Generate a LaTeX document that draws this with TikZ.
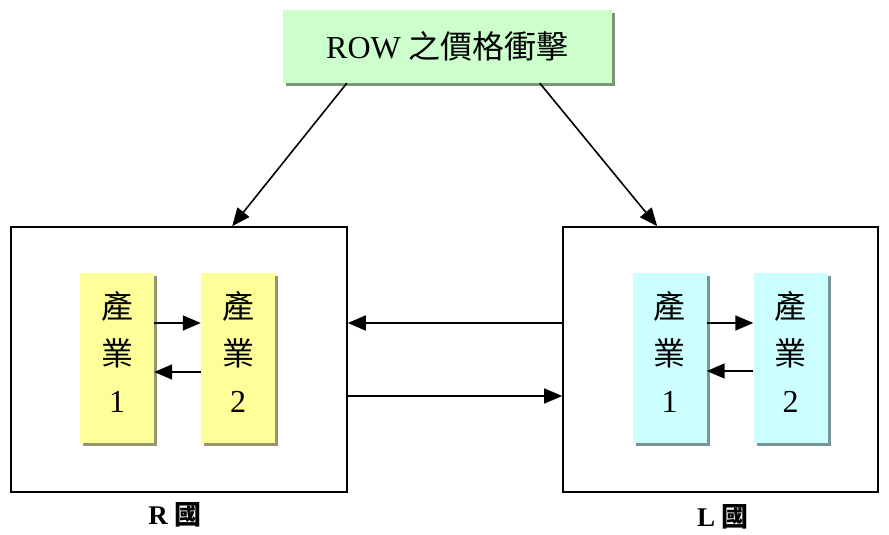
\documentclass[tikz,border=0pt]{standalone}
\usepackage{fontspec}
\setmainfont{Liberation Serif}
\newfontfamily\cjk{Noto Sans CJK TC}
\usetikzlibrary{arrows.meta,shadows}
\definecolor{gfill}{RGB}{204,255,204}
\definecolor{gshad}{RGB}{122,150,122}
\definecolor{yfill}{RGB}{255,255,153}
\definecolor{yshad}{RGB}{150,150,110}
\definecolor{cfill}{RGB}{204,255,255}
\definecolor{cshad}{RGB}{120,150,150}
\tikzset{
  country/.style={draw=black,line width=1.6pt,minimum width=#1,minimum height=265pt,inner sep=0pt},
  indbox/.style={fill=#1fill,draw=none,minimum width=74pt,minimum height=170pt,inner sep=0pt,
    drop shadow={shadow xshift=3pt,shadow yshift=-3pt,fill=#1shad,opacity=1}},
  indtext/.style={align=center,font=\fontsize{32pt}{47pt}\selectfont,inner sep=0pt},
  arr/.style={line width=1.6pt,-{Triangle[length=18pt,width=15pt]}},
  ctry/.style={font=\fontsize{27pt}{30pt}\selectfont\bfseries}
}
\begin{document}
\begin{tikzpicture}[x=1pt,y=-1pt]
\useasboundingbox (0,0) rectangle (889,535);
% shock box
\node[fill=gfill,minimum width=329pt,minimum height=73pt,inner sep=0pt,
  drop shadow={shadow xshift=3pt,shadow yshift=-3pt,fill=gshad,opacity=1},
  font=\fontsize{32pt}{36pt}\selectfont] (shock) at (447.5,46.5) {ROW {\cjk 之價格衝擊}};
% countries
\node[country=336pt] (R) at (179,359.5) {};
\node[country=315pt] (L) at (720.5,359.5) {};
% industries
\node[indbox=y] (r1) at (117,358) {};
\node[indbox=y] (r2) at (238,358) {};
\node[indbox=c] (l1) at (669.5,358) {};
\node[indbox=c] (l2) at (790.5,358) {};
\node[indtext] (r1t) at (117,352) {{\cjk 產}\\{\cjk 業}\\1};
\node[indtext] (r2t) at (238,352) {{\cjk 產}\\{\cjk 業}\\2};
\node[indtext] (l1t) at (669.5,352) {{\cjk 產}\\{\cjk 業}\\1};
\node[indtext] (l2t) at (790.5,352) {{\cjk 產}\\{\cjk 業}\\2};
% internal arrows
\draw[arr] ([yshift=35pt]r1.east) -- ([yshift=35pt]r2.west);
\draw[arr] ([yshift=-14pt]r2.west) -- ([yshift=-14pt]r1.east);
\draw[arr] ([yshift=35pt]l1.east) -- ([yshift=35pt]l2.west);
\draw[arr] ([yshift=-13pt]l2.west) -- ([yshift=-13pt]l1.east);
% between countries
\draw[arr] ([yshift=36.5pt]L.west) -- ([yshift=36.5pt]R.east);
\draw[arr] ([yshift=-36.5pt]R.east) -- ([yshift=-36.5pt]L.west);
% shock arrows
\draw[arr] ([xshift=64pt]shock.south west) -- ([xshift=222pt]R.north west);
\draw[arr] ([xshift=257pt]shock.south west) -- ([xshift=95pt]L.north west);
% labels
\node[ctry] (Rl) at (175,515) {R {\cjk 國}};
\node[ctry] (Ll) at (723,517) {L {\cjk 國}};
\end{tikzpicture}
\end{document}
